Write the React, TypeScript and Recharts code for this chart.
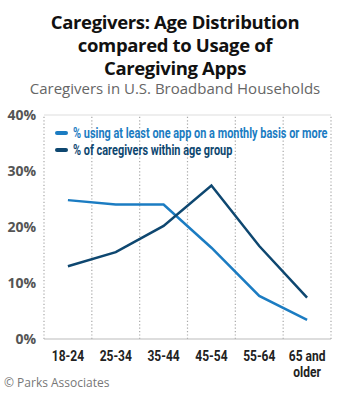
import * as React from 'react';
import { LineChart, Line, XAxis, YAxis, ReferenceLine } from 'recharts';

const ageGroups = ['18-24', '25-34', '35-44', '45-54', '55-64', '65 and older'];
const appUsage = [24.8, 24.0, 24.0, 16.3, 7.7, 3.4];
const ageShare = [13.0, 15.5, 20.2, 27.4, 16.6, 7.4];
const yTicks = [0, 10, 20, 30, 40];
const bandEdges = [0, 1, 2, 3, 4, 5, 6];

const LIGHT = '#1b7cc2';
const DARK = '#0e4770';
const FONT = 'Roboto, "Open Sans", sans-serif';

const data = ageGroups.map((g, i) => ({ group: g, pos: i + 0.5, usage: appUsage[i], share: ageShare[i] }));

const legendItems = [
  { label: '% using at least one app on a monthly basis or more', color: LIGHT },
  { label: '% of caregivers within age group', color: DARK },
];

function AgeTick(props: any) {
  const { x, y, payload } = props;
  const words = String(payload.value) === '65 and older' ? ['65 and', 'older'] : [payload.value];
  return (
    <text transform={`translate(${x},${y}) scale(0.8,1)`} textAnchor="middle" fill="#222" fontFamily={FONT} fontWeight="bold" fontSize={15}>
      {words.map((w: string, i: number) => (
        <tspan key={i} x={0} dy={i === 0 ? 14 : 16}>{w}</tspan>
      ))}
    </text>
  );
}

export default function App() {
  return (
    <div style={{ position: 'absolute', left: 0, top: 0, width: 350, height: 400, background: '#fff', fontFamily: '"Open Sans", sans-serif' }}>
      <div style={{ position: 'absolute', top: 10, left: 0, width: 350, textAlign: 'center', fontWeight: 'bold', fontSize: 18.5, lineHeight: '23px', letterSpacing: -0.35, color: '#111' }}>
        Caregivers: Age Distribution<br />compared to Usage of<br />Caregiving Apps
      </div>
      <div style={{ position: 'absolute', top: 78, left: 0, width: 350, textAlign: 'center', fontSize: 15, color: '#666' }}>
        Caregivers in U.S. Broadband Households
      </div>
      <LineChart width={350} height={400} data={data} margin={{ top: 115, right: 19, bottom: 16, left: 0 }}>
        <XAxis dataKey="group" scale="band" axisLine={{ stroke: '#bbb' }} tickLine={false} tick={<AgeTick />} interval={0} height={45} />
        {/* hidden numeric axis, only used to put the dotted lines on the category boundaries */}
        <XAxis xAxisId="edges" dataKey="pos" type="number" domain={[0, 6]} hide />
        <YAxis domain={[0, 40]} ticks={yTicks} width={44} axisLine={false} tickLine={false}
          tickFormatter={(v: number) => `${v}%`}
          tick={{ fill: '#555', fontSize: 14, fontWeight: 'bold', fontFamily: '"Open Sans", sans-serif' }} />
        {bandEdges.map((e) => (
          <ReferenceLine key={e} xAxisId="edges" x={e} stroke="#a8a8a8" strokeWidth={1.2} strokeDasharray="1.2 2.2" ifOverflow="extendDomain" />
        ))}
        <ReferenceLine y={40} stroke="#ddd" />
        <Line type="linear" dataKey="usage" stroke={LIGHT} strokeWidth={2.5} dot={false} isAnimationActive={false} />
        <Line type="linear" dataKey="share" stroke={DARK} strokeWidth={2.5} dot={false} isAnimationActive={false} />
      </LineChart>
      <div style={{ position: 'absolute', left: 55, top: 124, fontFamily: FONT, fontWeight: 'bold', fontSize: 14 }}>
        {legendItems.map((it) => (
          <div key={it.label} style={{ display: 'flex', alignItems: 'center', height: 17, color: it.color, whiteSpace: 'nowrap' }}>
            <span style={{ display: 'inline-block', width: 13, height: 4, borderRadius: 2, background: it.color, marginRight: 5 }} />
            <span style={{ display: 'inline-block', transform: 'scaleX(0.78)', transformOrigin: 'left center' }}>{it.label}</span>
          </div>
        ))}
      </div>
      <div style={{ position: 'absolute', left: 4, top: 374, fontSize: 12, color: '#777' }}>© Parks Associates</div>
    </div>
  );
}
